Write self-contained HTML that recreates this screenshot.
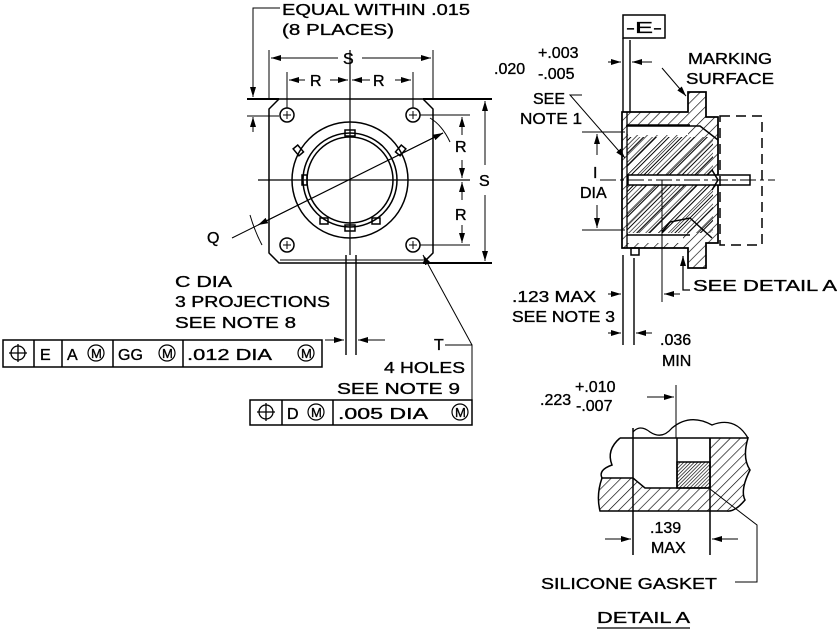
<!DOCTYPE html>
<html><head><meta charset="utf-8"><style>
html,body{margin:0;padding:0;background:#fff;}
svg{display:block;}
text{font-family:"Liberation Sans",sans-serif;font-size:16px;fill:#000;stroke:#000;stroke-width:0.35;}
</style></head><body>
<svg width="837" height="632" viewBox="0 0 837 632" xmlns="http://www.w3.org/2000/svg">
<defs>
<pattern id="h" width="7" height="7" patternUnits="userSpaceOnUse" patternTransform="rotate(45)"><line x1="0" y1="0" x2="0" y2="7" stroke="#000" stroke-width="1.3"/></pattern>
<pattern id="h2" width="9" height="9" patternUnits="userSpaceOnUse" patternTransform="rotate(45)"><line x1="0" y1="0" x2="0" y2="9" stroke="#000" stroke-width="1.2"/><line x1="3" y1="0" x2="3" y2="9" stroke="#000" stroke-width="1"/></pattern>
<pattern id="g" width="2.5" height="2.5" patternUnits="userSpaceOnUse" patternTransform="rotate(45)"><line x1="0" y1="0" x2="0" y2="2.5" stroke="#000" stroke-width="1.3"/></pattern>
<marker id="a" viewBox="0 0 10 6" refX="10" refY="3" markerWidth="10" markerHeight="6" orient="auto" markerUnits="userSpaceOnUse"><path d="M0,0 L10,3 L0,6 z" fill="#000"/></marker>
</defs>
<g fill="none" stroke="#000" stroke-width="1.5">
<path d="M279,99 L423,99 L433,109 L433,253 L423,263 L279,263 L269,253 L269,109 Z"/>
<line x1="247" y1="99" x2="279" y2="99" stroke-width="2"/>
<line x1="423" y1="99" x2="492" y2="99" stroke-width="2"/>
<line x1="423" y1="263" x2="492" y2="263" stroke-width="2"/>
<circle cx="287" cy="115" r="7"/><circle cx="413" cy="115" r="7"/>
<circle cx="287" cy="245" r="7"/><circle cx="413" cy="245" r="7"/>
<g stroke-width="1"><path d="M283,115h8M287,111v8M409,115h8M413,111v8M283,245h8M287,241v8M409,245h8M413,241v8"/></g>
<circle cx="350" cy="180" r="58"/>
<circle cx="350" cy="180" r="47"/>
<circle cx="350" cy="180" r="43"/>
<rect x="345" y="130" width="10" height="6"/><rect x="345" y="225" width="10" height="6"/>
<rect x="295" y="146" width="6" height="9" transform="rotate(-40 298 150)"/>
<rect x="398" y="146" width="6" height="9" transform="rotate(40 401 150)"/>
<rect x="302" y="175" width="5" height="10"/>
<rect x="320" y="218" width="8" height="6"/><rect x="372" y="218" width="8" height="6"/>
<line x1="350" y1="50" x2="350" y2="255" stroke-width="1.2"/>
<line x1="258" y1="180" x2="470" y2="180" stroke-width="1.2"/>
<line x1="269" y1="50" x2="269" y2="99" stroke-width="1"/><line x1="433" y1="50" x2="433" y2="99" stroke-width="1"/>
<line x1="338" y1="58" x2="271" y2="58" marker-end="url(#a)" stroke-width="1"/>
<line x1="362" y1="58" x2="431" y2="58" marker-end="url(#a)" stroke-width="1"/>
<line x1="287" y1="72" x2="287" y2="108" stroke-width="1"/><line x1="413" y1="72" x2="413" y2="108" stroke-width="1"/>
<line x1="305" y1="80" x2="289" y2="80" marker-end="url(#a)" stroke-width="1"/>
<line x1="330" y1="80" x2="348" y2="80" marker-end="url(#a)" stroke-width="1"/>
<line x1="370" y1="80" x2="352" y2="80" marker-end="url(#a)" stroke-width="1"/>
<line x1="395" y1="80" x2="411" y2="80" marker-end="url(#a)" stroke-width="1"/>
<line x1="420" y1="115" x2="470" y2="115" stroke-width="1"/><line x1="420" y1="245" x2="470" y2="245" stroke-width="1"/>
<line x1="462" y1="135" x2="462" y2="117" marker-end="url(#a)" stroke-width="1"/>
<line x1="462" y1="160" x2="462" y2="178" marker-end="url(#a)" stroke-width="1"/>
<line x1="462" y1="200" x2="462" y2="182" marker-end="url(#a)" stroke-width="1"/>
<line x1="462" y1="225" x2="462" y2="243" marker-end="url(#a)" stroke-width="1"/>
<line x1="485" y1="165" x2="485" y2="101" marker-end="url(#a)" stroke-width="1"/>
<line x1="485" y1="195" x2="485" y2="261" marker-end="url(#a)" stroke-width="1"/>
<polyline points="280,8 253,8 253,97" stroke-width="1" marker-end="url(#a)"/>
<line x1="253" y1="132" x2="253" y2="117" stroke-width="1" marker-end="url(#a)"/>
<line x1="247" y1="116" x2="279" y2="116" stroke-width="1"/>
<line x1="232" y1="238" x2="443" y2="133" stroke-width="1" marker-end="url(#a)"/>
<line x1="443" y1="133" x2="258" y2="225" stroke-width="1" marker-end="url(#a)"/>
<path d="M430,118 Q442,125 450,142" stroke-width="1"/>
<path d="M250,215 Q255,232 262,245" stroke-width="1"/>
<line x1="346" y1="255" x2="346" y2="355" stroke-width="1.4"/>
<line x1="356" y1="255" x2="356" y2="355" stroke-width="1.4"/>
<line x1="325" y1="340" x2="344" y2="340" stroke-width="1" marker-end="url(#a)"/>
<line x1="385" y1="340" x2="358" y2="340" stroke-width="1" marker-end="url(#a)"/>
<line x1="280" y1="260" x2="425" y2="260" stroke-width="1"/>
<line x1="472" y1="345" x2="423" y2="255" stroke-width="1" marker-end="url(#a)"/>
<polyline points="445,345 472,345 472,400" stroke-width="1"/>
<rect x="3" y="340" width="319" height="27"/>
<path d="M34,340v27M62,340v27M113,340v27M183,340v27"/>
<rect x="250" y="400" width="222" height="25"/>
<path d="M282,400v25M333,400v25"/>
<g stroke-width="1.3">
<circle cx="18" cy="353" r="7"/><path d="M9,353h18M18,344v18"/>
<circle cx="266" cy="412" r="7"/><path d="M257,412h18M266,403v18"/>
</g>
<g stroke-width="1.2">
<circle cx="96" cy="353" r="8"/><circle cx="167" cy="353" r="8"/><circle cx="306" cy="353" r="8"/>
<circle cx="316" cy="412" r="8"/><circle cx="460" cy="412" r="8"/>
</g>

<rect x="623" y="15" width="42" height="23"/>
<line x1="623" y1="38" x2="623" y2="112" stroke-width="1.4"/>
<line x1="630" y1="40" x2="630" y2="112" stroke-width="1.4"/>
<line x1="608" y1="62" x2="621" y2="62" stroke-width="1" marker-end="url(#a)"/>
<line x1="652" y1="62" x2="632" y2="62" stroke-width="1" marker-end="url(#a)"/>
<path d="M622,112 L688,112 L688,92 L706,92 L706,117 L718,117 L718,243 L706,243 L706,268 L688,268 L688,248 L622,248 Z" fill="url(#h)"/>
<rect x="628" y="125" width="60" height="10" fill="#fff" stroke="none"/>
<path d="M626,126 L700,126 L718,140" />
<rect x="627" y="137" width="86" height="38" fill="url(#h2)" stroke="none"/>
<rect x="627" y="185" width="86" height="48" fill="url(#h2)" stroke="none"/>
<rect x="628" y="233" width="55" height="10" fill="#fff" stroke="none"/>
<path d="M627,112 L627,248" stroke-width="1.3"/>
<path d="M622,112 L688,112 L688,92 L706,92 L706,117 L718,117 L718,243 L706,243 L706,268 L688,268 L688,248 L622,248 Z"/>
<path d="M627,125 L690,125 M627,235 L690,235"/>
<path d="M662,232 L670,222 L690,218 L712,238"/>
<rect x="628" y="175" width="122" height="10" fill="#fff"/>
<path d="M712,170 L718,180 L712,190"/>
<rect x="631" y="248" width="8" height="7"/>
<rect x="720" y="116" width="42" height="129" stroke-dasharray="10,6"/>
<line x1="600" y1="180" x2="775" y2="180" stroke-width="1" stroke-dasharray="16,4,4,4"/>
<line x1="582" y1="132" x2="625" y2="132" stroke-width="1"/>
<line x1="582" y1="230" x2="625" y2="230" stroke-width="1"/>
<line x1="597" y1="155" x2="597" y2="134" stroke-width="1" marker-end="url(#a)"/>
<line x1="597" y1="205" x2="597" y2="228" stroke-width="1" marker-end="url(#a)"/>
<polyline points="582,95 570,95 625,158" stroke-width="1" marker-end="url(#a)"/>
<line x1="662" y1="68" x2="686" y2="96" stroke-width="1" marker-end="url(#a)"/>
<polyline points="690,290 683,290 683,256" stroke-width="1.3" marker-end="url(#a)"/>
<line x1="623" y1="255" x2="623" y2="345" stroke-width="1.4"/>
<line x1="634" y1="258" x2="634" y2="345" stroke-width="1.4"/>
<line x1="662" y1="180" x2="662" y2="302" stroke-width="1"/>
<line x1="608" y1="294" x2="621" y2="294" stroke-width="1" marker-end="url(#a)"/>
<line x1="680" y1="294" x2="664" y2="294" stroke-width="1" marker-end="url(#a)"/>
<line x1="608" y1="333" x2="621" y2="333" stroke-width="1" marker-end="url(#a)"/>
<line x1="652" y1="333" x2="636" y2="333" stroke-width="1" marker-end="url(#a)"/>

<line x1="647" y1="397" x2="674" y2="397" stroke-width="1" marker-end="url(#a)"/>
<line x1="676" y1="385" x2="676" y2="438" stroke-width="1"/>
<path d="M633,432 Q640,424 650,432 Q662,440 672,428 Q690,413 712,425 Q735,416 748,438" stroke-width="1.3"/>
<path d="M620,438 L748,438 Q742,458 750,470 Q740,490 745,500 Q735,512 727,511 L600,511 Q596,495 602,478 L633,478 L645,488 L710,488 L710,438" fill="none"/>
<path d="M620,438 Q606,450 612,465 Q598,470 602,478"/>
<path d="M710,438 L748,438 Q742,458 750,470 Q740,490 745,500 Q735,512 727,511 L710,511 L710,488 Z" fill="url(#h)" stroke="none"/>
<path d="M602,478 L633,478 L645,488 L710,488 L710,511 L600,511 Q596,495 602,478 Z" fill="url(#h)" stroke="none"/>
<rect x="677" y="462" width="33" height="26" fill="url(#g)"/>
<line x1="677" y1="438" x2="677" y2="488"/>
<line x1="633" y1="428" x2="633" y2="555" stroke-width="1.5"/>
<line x1="710" y1="438" x2="710" y2="555" stroke-width="1.5"/>
<line x1="605" y1="539" x2="631" y2="539" stroke-width="1" marker-end="url(#a)"/>
<line x1="738" y1="539" x2="712" y2="539" stroke-width="1" marker-end="url(#a)"/>
<polyline points="735,582 757,582 757,525 710,489" stroke-width="1"/>
<line x1="597" y1="628" x2="690" y2="628" stroke-width="1.3"/>
</g>

<text x="282" y="15" textLength="188" lengthAdjust="spacingAndGlyphs">EQUAL WITHIN .015</text>
<text x="282" y="35" textLength="112" lengthAdjust="spacingAndGlyphs">(8 PLACES)</text>
<text x="343" y="64">S</text>
<text x="310" y="86">R</text>
<text x="373" y="86">R</text>
<text x="455" y="152">R</text>
<text x="455" y="220">R</text>
<text x="479" y="186">S</text>
<text x="207" y="243">Q</text>
<text x="175" y="287" textLength="57" lengthAdjust="spacingAndGlyphs">C DIA</text>
<text x="175" y="307" textLength="155" lengthAdjust="spacingAndGlyphs">3 PROJECTIONS</text>
<text x="175" y="328" textLength="121" lengthAdjust="spacingAndGlyphs">SEE NOTE 8</text>
<text x="40" y="360">E</text>
<text x="67" y="360">A</text>
<text x="91" y="358" style="font-size:13px">M</text>
<text x="118" y="360">GG</text>
<text x="162" y="358" style="font-size:13px">M</text>
<text x="187" y="360" textLength="85" lengthAdjust="spacingAndGlyphs">.012 DIA</text>
<text x="301" y="358" style="font-size:13px">M</text>
<text x="434" y="350">T</text>
<text x="384" y="373" textLength="81" lengthAdjust="spacingAndGlyphs">4 HOLES</text>
<text x="337" y="394" textLength="123" lengthAdjust="spacingAndGlyphs">SEE NOTE 9</text>
<text x="287" y="419">D</text>
<text x="311" y="417" style="font-size:13px">M</text>
<text x="338" y="419" textLength="90" lengthAdjust="spacingAndGlyphs">.005 DIA</text>
<text x="455" y="417" style="font-size:13px">M</text>

<text x="626" y="33" textLength="36" lengthAdjust="spacingAndGlyphs">-E-</text>
<text x="494" y="74">.020</text>
<text x="538" y="58">+.003</text>
<text x="538" y="79">-.005</text>
<text x="688" y="64" textLength="84" lengthAdjust="spacingAndGlyphs">MARKING</text>
<text x="686" y="84" textLength="88" lengthAdjust="spacingAndGlyphs">SURFACE</text>
<text x="533" y="104">SEE</text>
<text x="520" y="124" textLength="62" lengthAdjust="spacingAndGlyphs">NOTE 1</text>
<text x="593" y="178">I</text>
<text x="580" y="198">DIA</text>
<text x="693" y="291" textLength="144" lengthAdjust="spacingAndGlyphs">SEE DETAIL A</text>
<text x="512" y="302" textLength="84" lengthAdjust="spacingAndGlyphs">.123 MAX</text>
<text x="512" y="322" textLength="103" lengthAdjust="spacingAndGlyphs">SEE NOTE 3</text>
<text x="660" y="345">.036</text>
<text x="662" y="366">MIN</text>

<text x="540" y="405">.223</text>
<text x="575" y="392">+.010</text>
<text x="576" y="411">-.007</text>
<text x="650" y="533">.139</text>
<text x="651" y="553">MAX</text>
<text x="541" y="589" textLength="176" lengthAdjust="spacingAndGlyphs">SILICONE GASKET</text>
<text x="597" y="623" textLength="93" lengthAdjust="spacingAndGlyphs">DETAIL A</text>
</svg>
</body></html>
